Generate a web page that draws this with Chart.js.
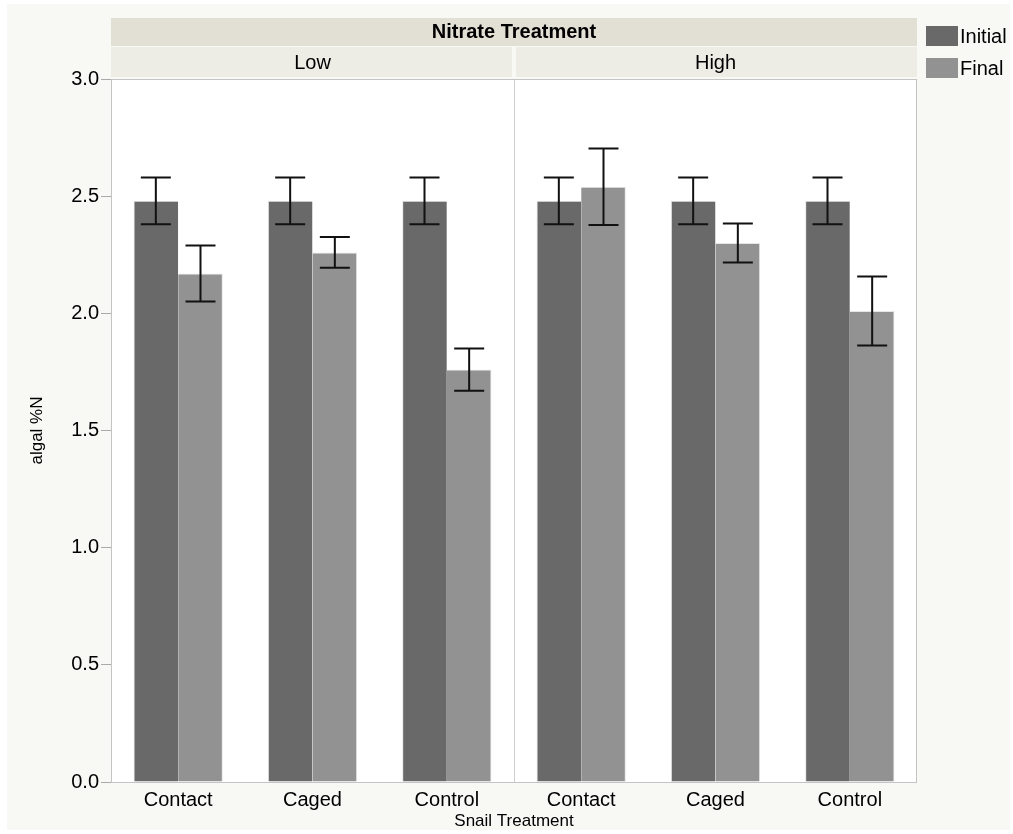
<!DOCTYPE html>
<html>
<head>
<meta charset="utf-8">
<title>algal %N by snail and nitrate treatment</title>
<script src="https://cdn.jsdelivr.net/npm/chart.js@4.4.1/dist/chart.umd.min.js"></script>
<style>
  html, body { margin: 0; padding: 0; background: #ffffff; }
  #wrap { width: 1013px; height: 834px; position: relative; }
</style>
</head>
<body>
<div id="wrap"><canvas id="c" width="1013" height="834"></canvas></div>
<script>
// Snail treatment within each nitrate level
const categories = ['Contact', 'Caged', 'Control', 'Contact', 'Caged', 'Control'];
const nitrateLevels = ['Low', 'High'];
const seriesNames = ['Initial', 'Final'];

// mean algal %N
const initialValues = [2.48, 2.48, 2.48, 2.48, 2.48, 2.48];
const finalValues   = [2.17, 2.26, 1.76, 2.54, 2.30, 2.01];

// standard error
const initialErrors = [0.10, 0.10, 0.10, 0.10, 0.10, 0.10];
const finalErrors   = [0.12, 0.066, 0.09, 0.163, 0.083, 0.147];

const yTicks = [0, 0.5, 1.0, 1.5, 2.0, 2.5, 3.0];

const FONT = '"Liberation Sans", Arial, Helvetica, sans-serif';
const colors = ['#696969', '#929292'];

// panel background, plot header strips, divider, error bars and legend
const decorations = {
  id: 'decorations',
  beforeDraw(chart) {
    const ctx = chart.ctx;
    const a = chart.chartArea;
    ctx.save();
    ctx.fillStyle = '#f8f8f4';
    ctx.fillRect(7, 4, 1003, 826);
    ctx.fillStyle = '#ffffff';
    ctx.fillRect(a.left, a.top, a.right - a.left, a.bottom - a.top);

    // header strips
    const x = chart.scales.x;
    const mid = (x.getPixelForValue(2) + x.getPixelForValue(3)) / 2;
    ctx.fillStyle = '#e2dfd5';
    ctx.fillRect(a.left, 18, a.right - a.left, 28);
    ctx.fillStyle = '#000';
    ctx.font = 'bold 20px ' + FONT;
    ctx.textAlign = 'center';
    ctx.textBaseline = 'middle';
    ctx.fillText('Nitrate Treatment', (a.left + a.right) / 2, 32);

    ctx.fillStyle = '#edece5';
    ctx.fillRect(a.left, 47, mid - 2 - a.left, a.top - 49);
    ctx.fillRect(mid + 2, 47, a.right - mid - 2, a.top - 49);
    ctx.fillStyle = '#000';
    ctx.font = '20px ' + FONT;
    ctx.fillText(nitrateLevels[0], (a.left + mid) / 2, 63);
    ctx.fillText(nitrateLevels[1], (mid + a.right) / 2, 63);
    ctx.restore();
  },
  afterDatasetsDraw(chart) {
    const ctx = chart.ctx;
    const a = chart.chartArea;
    const x = chart.scales.x;
    const y = chart.scales.y;
    const mid = (x.getPixelForValue(2) + x.getPixelForValue(3)) / 2;
    ctx.save();

    // divider between nitrate levels
    ctx.strokeStyle = '#d0d0d0';
    ctx.lineWidth = 1;
    ctx.beginPath();
    ctx.moveTo(Math.round(mid) + 0.5, a.top);
    ctx.lineTo(Math.round(mid) + 0.5, a.bottom);
    ctx.stroke();

    // plot frame
    ctx.strokeStyle = '#c4c4c4';
    ctx.strokeRect(a.left + 0.5, a.top + 0.5, a.right - a.left - 1, a.bottom - a.top);

    // error bars
    const errs = [initialErrors, finalErrors];
    ctx.strokeStyle = '#111';
    ctx.lineWidth = 2;
    chart.data.datasets.forEach((ds, di) => {
      const meta = chart.getDatasetMeta(di);
      meta.data.forEach((bar, i) => {
        const v = ds.data[i];
        const e = errs[di][i];
        const cx = bar.x;
        const yHi = y.getPixelForValue(v + e);
        const yLo = y.getPixelForValue(v - e);
        const cap = 15;
        ctx.beginPath();
        ctx.moveTo(cx, yHi); ctx.lineTo(cx, yLo);
        ctx.moveTo(cx - cap, yHi); ctx.lineTo(cx + cap, yHi);
        ctx.moveTo(cx - cap, yLo); ctx.lineTo(cx + cap, yLo);
        ctx.stroke();
      });
    });

    // legend
    ctx.font = '20px ' + FONT;
    ctx.textAlign = 'left';
    ctx.textBaseline = 'middle';
    seriesNames.forEach((name, i) => {
      const top = 26 + i * 32;
      ctx.fillStyle = colors[i];
      ctx.fillRect(926, top, 32, 20);
      ctx.fillStyle = '#000';
      ctx.fillText(name, 960, top + 11);
    });
    ctx.restore();
  }
};

new Chart(document.getElementById('c'), {
  type: 'bar',
  data: {
    labels: categories,
    datasets: [
      { label: seriesNames[0], data: initialValues, backgroundColor: colors[0],
        borderColor: '#e6e6e6', borderWidth: { left: 1, right: 0, top: 1, bottom: 0 } },
      { label: seriesNames[1], data: finalValues, backgroundColor: colors[1],
        borderColor: '#e6e6e6', borderWidth: { left: 0, right: 1, top: 1, bottom: 0 } }
    ]
  },
  options: {
    responsive: false,
    animation: false,
    devicePixelRatio: 1,
    layout: { padding: { top: 79, right: 96, bottom: 0, left: 0 } },
    datasets: { bar: { categoryPercentage: 0.665, barPercentage: 1.0 } },
    plugins: {
      legend: { display: false },
      tooltip: { enabled: false }
    },
    scales: {
      x: {
        grid: { display: false },
        border: { display: false },
        ticks: { color: '#000', font: { family: FONT, size: 20 }, padding: -2, maxRotation: 0 },
        title: { display: true, text: 'Snail Treatment', color: '#000',
                 font: { family: FONT, size: 17 }, padding: { top: 0, bottom: 2 } },
        afterFit(s) { s.height = 52; }
      },
      y: {
        min: 0, max: 3,
        afterBuildTicks(s) { s.ticks = yTicks.map(v => ({ value: v })); },
        grid: { drawOnChartArea: false, tickLength: 10, color: '#aaaaaa' },
        border: { display: true, color: '#aaaaaa' },
        ticks: { color: '#000', font: { family: FONT, size: 20 }, padding: 2,
                 callback: v => v.toFixed(1) },
        title: { display: true, text: 'algal %N', color: '#000',
                 font: { family: FONT, size: 17 }, padding: { top: 27, bottom: 0 } },
        afterFit(s) { s.width = 111; }
      }
    }
  },
  plugins: [decorations]
});
</script>
</body>
</html>
